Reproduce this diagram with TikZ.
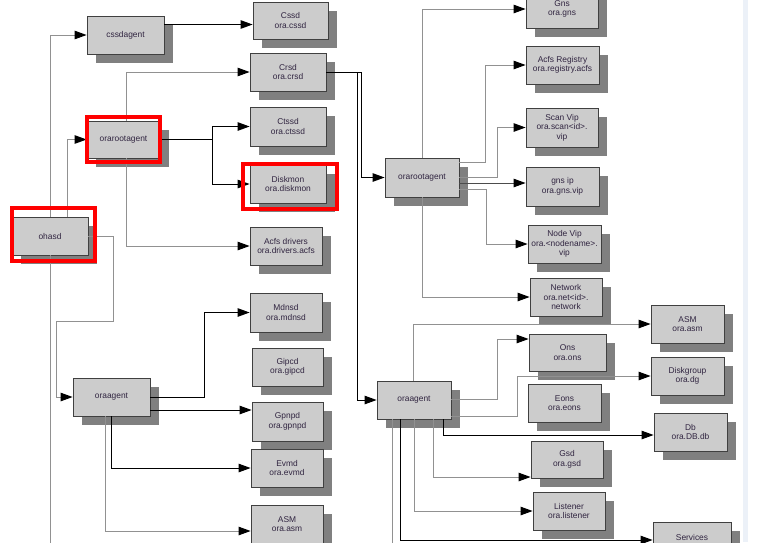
\documentclass[tikz,border=0pt]{standalone}
\usepackage{fontspec}
\setmainfont{Liberation Sans}
\usepackage{tikz}
\usetikzlibrary{arrows.meta, calc, shadows}
\usepackage{xcolor}
\definecolor{boxgrey}{RGB}{204,204,204}
\definecolor{edgegrey}{RGB}{64,64,64}
\definecolor{shadegrey}{RGB}{128,128,128}
\definecolor{wiregrey}{RGB}{145,145,145}
\definecolor{ink}{RGB}{48,36,64}
\definecolor{strip}{RGB}{236,241,248}

\begin{document}
\begin{tikzpicture}[x=1pt, y=-1pt,
  unit/.style={draw=edgegrey, fill=boxgrey, line width=0.8pt, minimum width=73pt, minimum height=38pt,
    inner sep=1pt, align=center, text=ink, font=\fontsize{8.4}{9.5}\selectfont,
    drop shadow={shadow xshift=9pt, shadow yshift=-9pt, fill=shadegrey, opacity=1}},
  wire/.style={draw=wiregrey, line width=1pt},
  feed/.style={wire, -{Triangle[length=12pt, width=8.5pt, color=black]}},
  hard/.style={draw=black, line width=1pt, -{Triangle[length=12pt, width=8.5pt, color=black]}},
  hilite/.style={draw=red, line width=4pt}]
  \useasboundingbox (0,0) rectangle (762,542);
  \clip (0,0) rectangle (762,542);
  \fill[strip] (743,0) rectangle (748,542);

  % ohasd side
  \node[unit, minimum width=77pt] (cssdagent) at (125.5,35) {cssdagent};
  \node[unit, minimum width=75pt, minimum height=37pt] (cssd) at (290.5,20.5) {Cssd\\ora.cssd};
  \node[unit, minimum width=76pt] (crsd) at (288,72) {Crsd\\ora.crsd};
  \node[unit, minimum height=37pt] (orarootL) at (123.5,139.5) {orarootagent};
  \node[unit, minimum width=76pt, minimum height=39pt] (ctssd) at (288,126.5) {Ctssd\\ora.ctssd};
  \node[unit, minimum width=76pt] (diskmon) at (288,184) {Diskmon\\ora.diskmon};
  \node[unit, minimum width=72pt] (acfsdrv) at (286,246) {Acfs drivers\\ora.drivers.acfs};
  \node[unit, minimum width=76pt] (ohasd) at (50,236) {ohasd};
  \node[unit, minimum width=72pt, minimum height=39pt] (mdnsd) at (286,312.5) {Mdnsd\\ora.mdnsd};
  \node[unit, minimum width=71pt] (gipcd) at (287.5,367) {Gipcd\\ora.gipcd};
  \node[unit, minimum width=77pt] (oraagentL) at (111.5,397) {oraagent};
  \node[unit, minimum width=71pt, minimum height=39pt] (gpnpd) at (287.5,421.5) {Gpnpd\\ora.gpnpd};
  \node[unit, minimum width=72pt] (evmd) at (287,468) {Evmd\\ora.evmd};
  \node[unit, minimum width=72pt] (asmL) at (287,524) {ASM\\ora.asm};

  % crsd side
  \node[unit, minimum width=72pt] (gns) at (562,9) {Gns\\ora.gns};
  \node[unit] (acfsreg) at (562.5,65) {Acfs Registry\\ora.registry.acfs};
  \node[unit, minimum width=72pt, minimum height=39pt] (scanvip) at (562,127.5) {Scan Vip\\ora.scan<id>.\\vip};
  \node[unit, minimum height=39pt] (gnsip) at (562.5,186.5) {gns ip\\ora.gns.vip};
  \node[unit] (nodevip) at (564.5,244) {Node Vip\\ora.<nodename>.\\vip};
  \node[unit, minimum width=74pt, minimum height=39pt] (orarootR) at (422,177.5) {orarootagent};
  \node[unit, minimum width=72pt] (network) at (566,297) {Network\\ora.net<id>.\\network};
  \node[unit] (asmR) at (687.5,324) {ASM\\ora.asm};
  \node[unit, minimum width=77pt, minimum height=37pt] (ons) at (567.5,352.5) {Ons\\ora.ons};
  \node[unit] (diskgroup) at (687.5,376) {Diskgroup\\ora.dg};
  \node[unit] (eons) at (564.5,403) {Eons\\ora.eons};
  \node[unit] (db) at (690.5,432) {Db\\ora.DB.db};
  \node[unit, minimum width=74pt] (oraagentR) at (414,400) {oraagent};
  \node[unit, minimum width=72pt, minimum height=37pt] (gsd) at (567,459.5) {Gsd\\ora.gsd};
  \node[unit, minimum width=72pt] (listener) at (569,511) {Listener\\ora.listener};
  \node[unit, minimum width=78pt, text height=6.5pt, text depth=8.5pt] (services) at (692,541) {Services};

  \coordinate (ohasdout) at (50,548);
  \coordinate (agentout) at (392,548);

  % ohasd links
  \draw[feed] (ohasd.north) |- (cssdagent.west);
  \draw[feed] ([xshift=17pt]ohasd.north) |- (orarootL.west);
  \draw[wire] (ohasd.south) -- (ohasdout);
  \draw[feed] (ohasd.east) -- ++(25,0) -- ++(0,85) -| ([xshift=-16pt]oraagentL.west) -- (oraagentL.west);
  \draw[hard] ([yshift=-4pt]cssd.west -| cssdagent.east) -- ([yshift=-4pt]cssd.west);

  % orarootagent (ohasd)
  \draw[feed] ([xshift=2.5pt]orarootL.north) |- (crsd.west);
  \draw[hard] (orarootL.east) -- ++(52,0) |- (ctssd.west);
  \draw[hard] (orarootL.east) -- ++(52,0) |- (diskmon.west);
  \draw[feed] ([xshift=2.5pt]orarootL.south) |- (acfsdrv.west);

  % oraagent (ohasd)
  \draw[hard] (oraagentL.east) -- ++(54,0) |- (mdnsd.west);
  \draw[hard] ([yshift=-13pt]oraagentL.east) -- ([yshift=-13pt]oraagentL.east -| gpnpd.west);
  \draw[hard] (oraagentL.south) |- (evmd.west);
  \draw[feed] ([xshift=-6pt]oraagentL.south) |- ([yshift=-7pt]asmL.west);

  % crsd links
  \draw[hard] (crsd.east) -- ++(35,0) |- (orarootR.west);
  \draw[hard] (crsd.east) -- ++(31,0) |- (oraagentR.west);

  % orarootagent (crsd)
  \draw[feed] (orarootR.north) |- (gns.west);
  \draw[feed] ([yshift=15.5pt]orarootR.east) -- ++(26,0) |- (acfsreg.west);
  \draw[feed] (orarootR.east) -- ++(38,0) |- (scanvip.west);
  \draw[hard, draw=black!70] ([yshift=-5.5pt]orarootR.east) -- ([yshift=-5.5pt]orarootR.east -| gnsip.west);
  \draw[feed] ([yshift=-11.5pt]orarootR.east) -- ++(27,0) |- (nodevip.west);
  \draw[feed] (orarootR.south) |- (network.west);

  % oraagent (crsd)
  \draw[feed] ([xshift=-1pt]oraagentR.north) |- (asmR.west);
  \draw[feed] ([yshift=1pt]oraagentR.east) -- ++(46,0) |- ([yshift=13.5pt]ons.west);
  \draw[feed] ([yshift=-16pt]oraagentR.east) -- ++(66,0) |- (diskgroup.west);
  \draw[hard] ([xshift=29pt]oraagentR.south) |- ([yshift=-3pt]db.west);
  \draw[feed] ([xshift=19pt]oraagentR.south) |- ([yshift=-17.5pt]gsd.west);
  \draw[feed] (oraagentR.south) |- (listener.west);
  \draw[hard] ([xshift=-14pt]oraagentR.south) |- ([yshift=1pt]services.west);
  \draw[wire] ([xshift=-22pt]oraagentR.south) -- (agentout);

  % red marks
  \draw[hilite] ($(orarootL.north west)+(0,-3.5)$) rectangle ($(orarootL.south east)+(0,3.5)$);
  \draw[hilite] ($(diskmon.north west)+(-7,-1)$) rectangle ($(diskmon.south east)+(11,6)$);
  \draw[hilite] ($(ohasd.north west)+(0,-9)$) rectangle ($(ohasd.south east)+(6.5,6)$);
\end{tikzpicture}
\end{document}
